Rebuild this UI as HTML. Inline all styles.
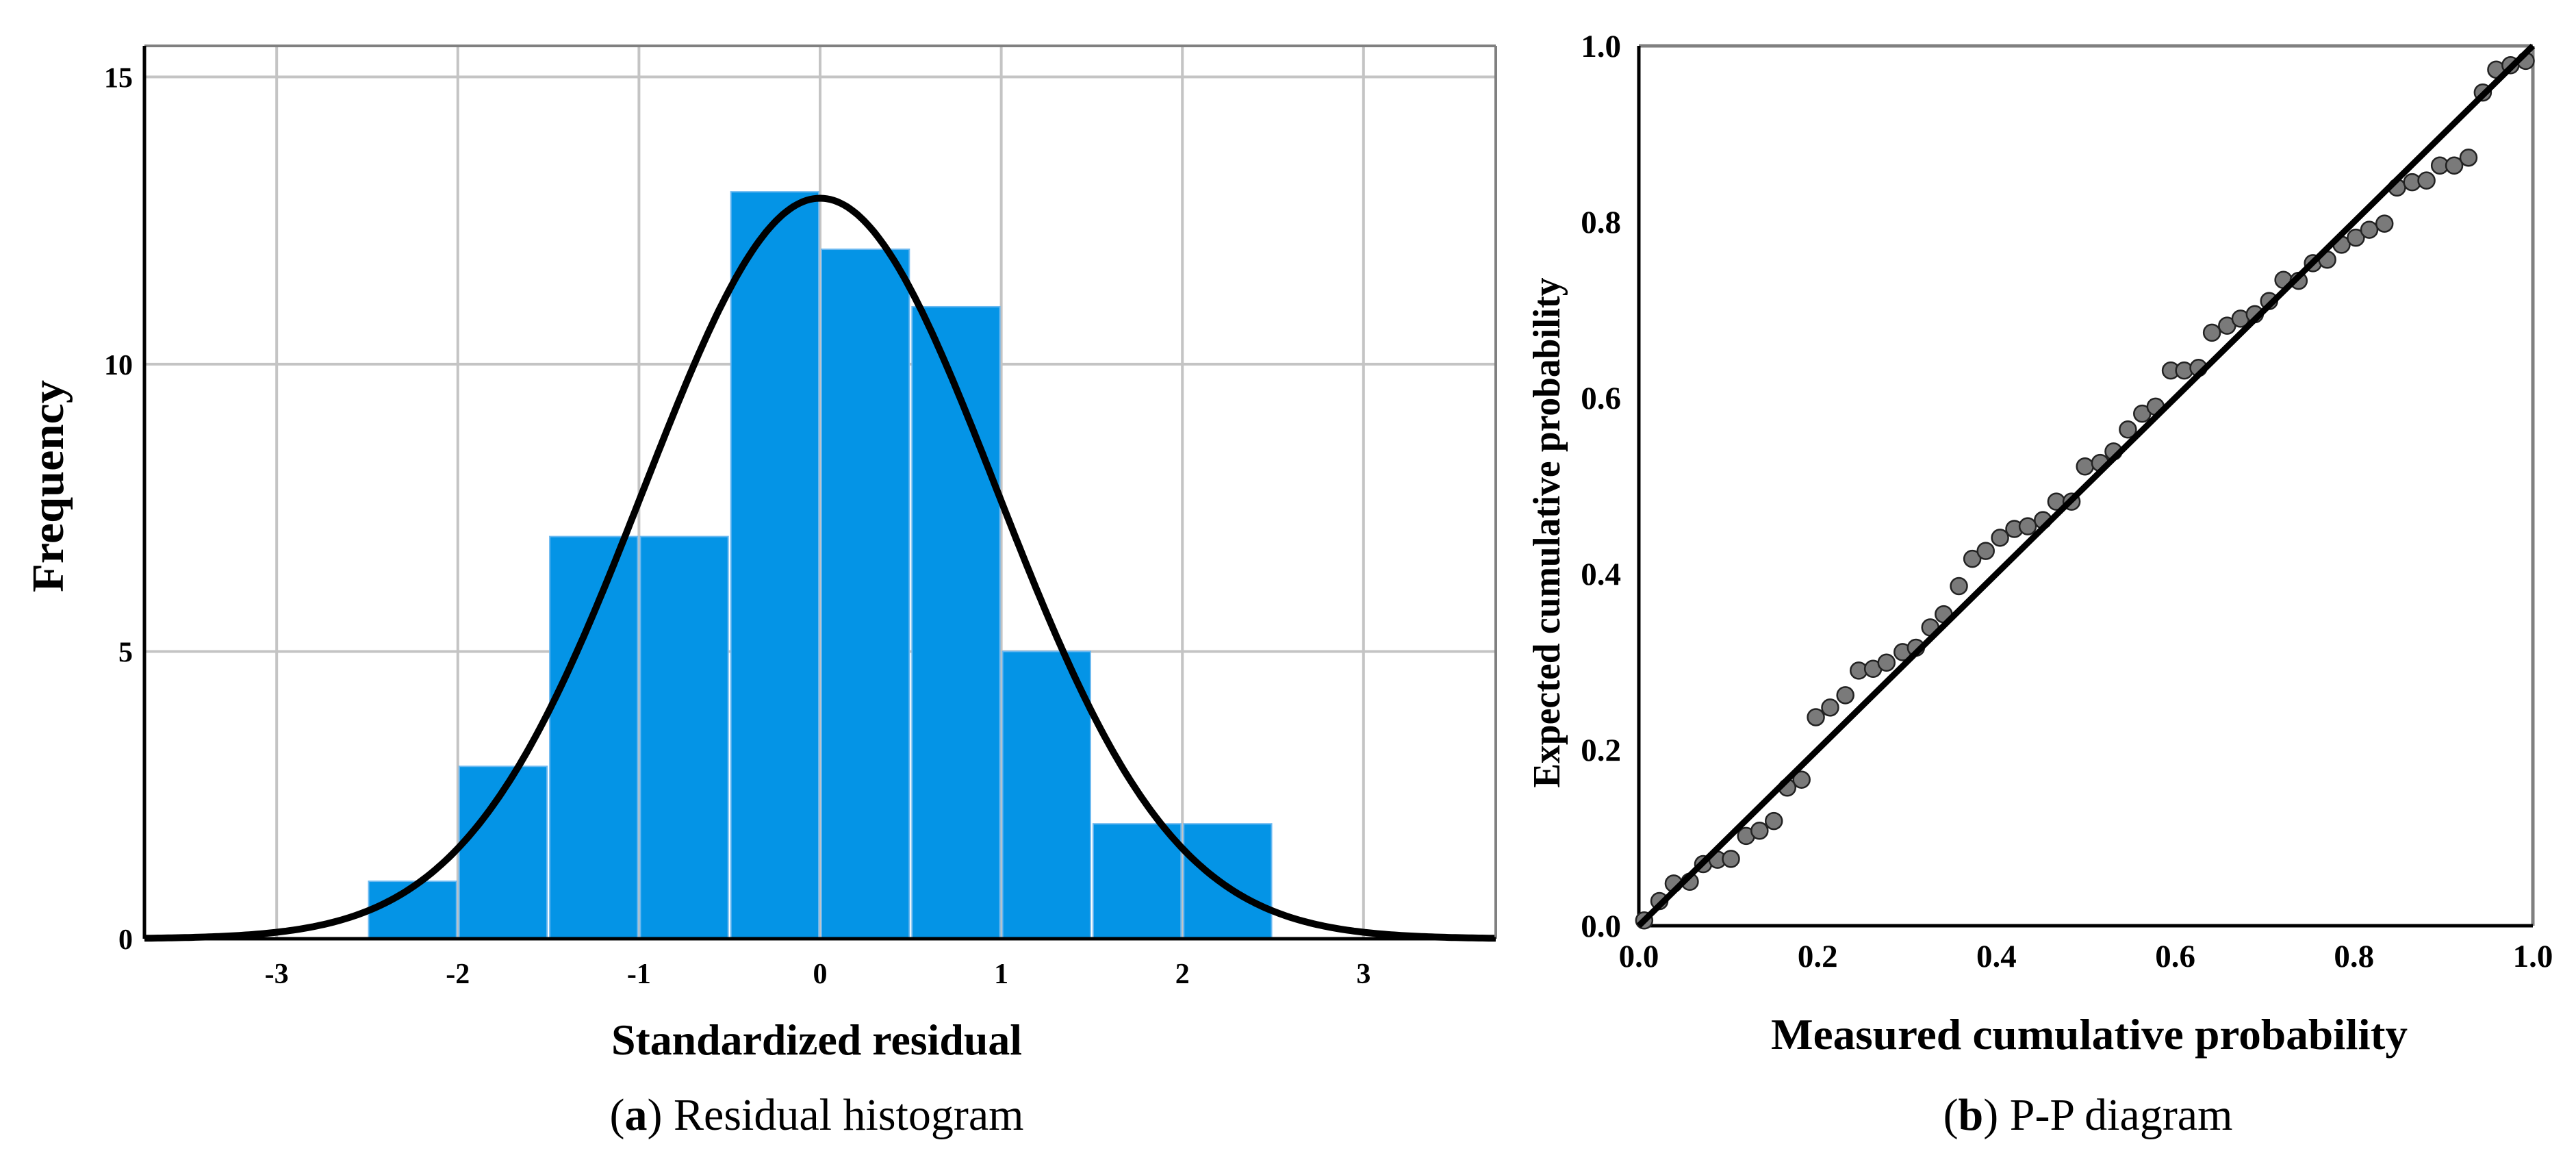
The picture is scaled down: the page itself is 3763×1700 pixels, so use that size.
<!DOCTYPE html>
<html><head><meta charset="utf-8"><style>
html,body{margin:0;padding:0;background:#fff;}
svg{display:block;font-family:"Liberation Serif",serif;}
</style></head><body>
<svg id="root" width="3763" height="1700" viewBox="0 0 3763 1700" xmlns="http://www.w3.org/2000/svg">
<g id="hist"></g>
<g id="pp"></g>
</svg>
<script>
// ---------- Histogram data ----------
const binStarts = [-2.5,-2,-1.5,-1,-0.5,0,0.5,1,1.5,2];
const binCounts = [1,3,7,7,13,12,11,5,2,2];
const binWidth = 0.5;
const xTicks = [-3,-2,-1,0,1,2,3];
const yTicks = [0,5,10,15];
const curveMean = 0.0;
const curveSD = 0.975;
// ---------- P-P data ----------
const ppMeasured = [.006,.023,.039,.057,.072,.088,.103,.120,.135,.151,.166,.182,.198,.214,.231,.246,.262,.277,.295,.310,.326,.341,.358,.373,.388,.404,.420,.435,.452,.467,.484,.499,.516,.531,.547,.563,.578,.595,.610,.626,.641,.658,.673,.689,.705,.721,.738,.754,.770,.786,.802,.817,.834,.848,.865,.881,.896,.912,.928,.944,.959,.975,.992];
const ppExpected = [.006,.028,.048,.050,.070,.075,.076,.102,.108,.119,.157,.166,.237,.248,.262,.290,.292,.299,.311,.316,.339,.354,.386,.417,.426,.441,.451,.454,.461,.482,.482,.522,.526,.539,.564,.582,.590,.631,.631,.634,.674,.682,.690,.695,.710,.734,.733,.753,.757,.774,.782,.791,.798,.839,.845,.847,.864,.864,.873,.947,.973,.978,.983];
const ppTicks = ["0.0","0.2","0.4","0.6","0.8","1.0"];

const NS="http://www.w3.org/2000/svg";
function mk(parent,tag,attrs,text){const e=document.createElementNS(NS,tag);for(const k in attrs)e.setAttribute(k,attrs[k]);if(text!==undefined)e.textContent=text;parent.appendChild(e);return e;}

// ===== Histogram =====
const H=document.getElementById('hist');
const hL=211,hR=2185,hT=67,hB=1371;
const hxMin=-3.73,hxMax=3.73,hyMax=15.54;
const hx=v=>hL+(v-hxMin)/(hxMax-hxMin)*(hR-hL);
const hy=v=>hB-v/hyMax*(hB-hT);
xTicks.forEach(t=>{
  const l=mk(H,'line',{x1:hx(t),x2:hx(t),y1:hT,y2:hB,stroke:'#c4c4c4','stroke-width':4});
  
  
  const tx=mk(H,'text',{x:hx(t),y:1436,'text-anchor':'middle','font-size':42,'font-weight':'bold'},String(t));
  
  
});
yTicks.forEach(t=>{
  if(t>0){const l=mk(H,'line',{x1:hL,x2:hR,y1:hy(t),y2:hy(t),stroke:'#c4c4c4','stroke-width':4});
  
  }
  const tx=mk(H,'text',{x:194,y:hy(t)+15,'text-anchor':'end','font-size':42,'font-weight':'bold'},String(t));
  
  
});
binStarts.forEach((s,i)=>{
  const r=mk(H,'rect',{x:hx(s)+2,y:hy(binCounts[i]),width:hx(s+binWidth)-hx(s)-4,height:hB-hy(binCounts[i]),fill:'#0494e6',stroke:'#6ab8f0','stroke-width':2});
  
  
});
const N=binCounts.reduce((a,b)=>a+b,0);
let d='';
for(let i=0;i<=400;i++){const x=hxMin+(hxMax-hxMin)*i/400;const y=N*binWidth*Math.exp(-0.5*((x-curveMean)/curveSD)**2)/(curveSD*Math.sqrt(2*Math.PI));d+=(i?'L':'M')+hx(x).toFixed(1)+','+hy(y).toFixed(1);}
const cv=mk(H,'path',{d:d,fill:'none',stroke:'#000','stroke-width':10});


mk(H,'line',{x1:hL,x2:hR,y1:hT,y2:hT,stroke:'#808080','stroke-width':4});
mk(H,'line',{x1:hR,x2:hR,y1:hT,y2:hB,stroke:'#808080','stroke-width':4});
const hxa=mk(H,'line',{x1:hL,x2:hR,y1:hB,y2:hB,stroke:'#000','stroke-width':5});


const hya=mk(H,'line',{x1:hL,x2:hL,y1:hT,y2:hB,stroke:'#000','stroke-width':5});


const t1=mk(H,'text',{x:1193,y:1540,'text-anchor':'middle','font-size':64,'font-weight':'bold',textLength:600,lengthAdjust:'spacingAndGlyphs'},'Standardized residual');


const t2=mk(H,'text',{x:0,y:0,transform:'translate(92,710) rotate(-90)','text-anchor':'middle','font-size':66,'font-weight':'bold',textLength:310,lengthAdjust:'spacingAndGlyphs'},'Frequency');


const c1=mk(H,'text',{x:1193,y:1650,'text-anchor':'middle','font-size':66},'');


c1.innerHTML='(<tspan font-weight="bold">a</tspan>) Residual histogram';

// ===== P-P =====
const P=document.getElementById('pp');
const pL=2394,pR=3700,pT=67,pB=1352;
const px=v=>pL+v*(pR-pL);
const py=v=>pB-v*(pB-pT);
ppTicks.forEach(t=>{
  const v=parseFloat(t);
  const a=mk(P,'text',{x:px(v),y:1412,'text-anchor':'middle','font-size':47,'font-weight':'bold'},t);
  
  
  const b=mk(P,'text',{x:2368,y:py(v)+16,'text-anchor':'end','font-size':47,'font-weight':'bold'},t);
  
  
});
mk(P,'line',{x1:pL,x2:pR,y1:pT,y2:pT,stroke:'#808080','stroke-width':5});
mk(P,'line',{x1:pR,x2:pR,y1:pT,y2:pB,stroke:'#808080','stroke-width':5});
const pxa=mk(P,'line',{x1:pL,x2:pR,y1:pB,y2:pB,stroke:'#000','stroke-width':5});


const pya=mk(P,'line',{x1:pL,x2:pL,y1:pT,y2:pB,stroke:'#000','stroke-width':5});


ppMeasured.forEach((m,i)=>{
  const c=mk(P,'circle',{cx:px(m),cy:py(ppExpected[i]),r:12,fill:'#7a7a7a',stroke:'#222','stroke-width':2.5});
  
  
});
const ref=mk(P,'line',{x1:px(0),y1:py(0),x2:px(1),y2:py(1),stroke:'#000','stroke-width':9});


const t3=mk(P,'text',{x:3052,y:1532,'text-anchor':'middle','font-size':64,'font-weight':'bold',textLength:930,lengthAdjust:'spacingAndGlyphs'},'Measured cumulative probability');


const t4=mk(P,'text',{x:0,y:0,transform:'translate(2278,778) rotate(-90)','text-anchor':'middle','font-size':56,'font-weight':'bold',textLength:745,lengthAdjust:'spacingAndGlyphs'},'Expected cumulative probability');


const c2=mk(P,'text',{x:3050,y:1650,'text-anchor':'middle','font-size':66},'');


c2.innerHTML='(<tspan font-weight="bold">b</tspan>) P-P diagram';
</script>
</body></html>
